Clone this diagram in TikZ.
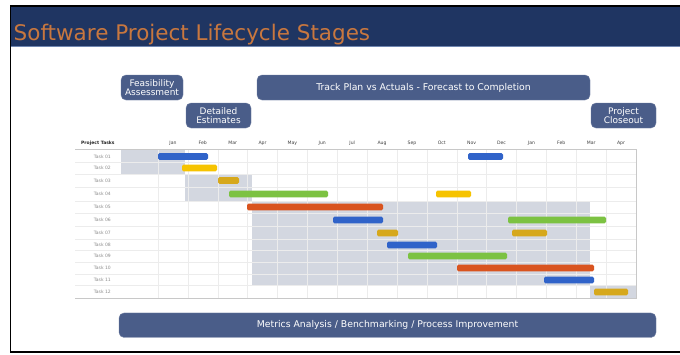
\documentclass[tikz,border=0pt]{standalone}
\usepackage{fontspec}
\setmainfont{DejaVu Sans}
\definecolor{headcol}{HTML}{1F3562}
\definecolor{headline}{HTML}{6F86B0}
\definecolor{titlecol}{HTML}{C8773F}
\definecolor{phasecol}{HTML}{4A5D89}
\definecolor{shadecol}{HTML}{D3D7E0}
\definecolor{gridcol}{HTML}{ECECEC}
\definecolor{bordcol}{HTML}{C8C8C8}
\definecolor{cblue}{HTML}{3063C9}
\definecolor{cyellow}{HTML}{F6C300}
\definecolor{cgold}{HTML}{D6A81C}
\definecolor{cgreen}{HTML}{7CC242}
\definecolor{corange}{HTML}{D9541F}
\begin{document}
\begin{tikzpicture}[x=1pt,y=-1pt,
  phase/.style={fill=phasecol, draw=phasecol!80!white, line width=0.4pt, rounded corners=5pt, text=white,
    font=\fontsize{9}{8.6}\selectfont, align=center, inner sep=0pt},
  phaseone/.style={phase, font=\fontsize{9.3}{10}\selectfont},
  bar/.style={rounded corners=1.5pt},
  tasklbl/.style={anchor=east, text=black!45, font=\fontsize{4.5}{5}\selectfont, inner sep=0pt},
  monlbl/.style={text=black!75, font=\fontsize{4.6}{5}\selectfont, inner sep=0pt},
  gridline/.style={draw=gridcol, line width=0.5pt}]
\useasboundingbox (0,0) rectangle (680,354);
\fill[white] (0,0) rectangle (680,354);
% header
\fill[headcol] (10,6) rectangle (680,46);
\draw[headline, line width=0.8pt] (10,46.4) -- (680,46.4);
\node[anchor=base west, text=titlecol, font=\fontsize{21.5}{25}\selectfont, inner sep=0pt] (title) at (13.5,40) {Software Project Lifecycle Stages};
% frame
\draw[black, line width=1.6pt] (680,6) -- (10.5,6) -- (10.5,351.8) -- (680,351.8);
% phase boxes
\node[phase, minimum width=62pt, minimum height=25pt] (feas) at (152,87.5) {Feasibility\\Assessment};
\node[phase, minimum width=65pt, minimum height=25pt] (detail) at (218.5,115.5) {Detailed\\Estimates};
\node[phaseone, minimum width=333pt, minimum height=25pt] (track) at (423.5,87.5) {Track Plan vs Actuals - Forecast to Completion};
\node[phase, minimum width=65pt, minimum height=25pt] (close) at (623.5,115.5) {Project\\Closeout};
\node[phaseone, minimum width=537pt, minimum height=24.5pt] (metrics) at (387.5,325.2) {Metrics Analysis / Benchmarking / Process Improvement};
% shading
\fill[shadecol] (121,149) rectangle (185,174);
\fill[shadecol] (185,174) rectangle (252,201);
\fill[shadecol] (252,201) rectangle (590,285.5);
\fill[shadecol] (590,285.5) rectangle (636,298);
% grid
\foreach \yy in {162.5,174,187.5,201,213.5,226.5,239,250.5,262,274,285.5}
  \draw[gridline] (75,\yy) -- (636,\yy);
\foreach \k in {0,...,15}
  \draw[gridline] ({158+29.875*\k},149) -- ({158+29.875*\k},298);
\draw[bordcol, line width=0.6pt] (75,149) -- (636,149) -- (636,298) -- (75,298);
% header labels
\node[anchor=west, text=black!85, font=\bfseries\fontsize{4.5}{5}\selectfont, inner sep=0pt] (pt) at (81,143) {Project Tasks};
\foreach \m [count=\i from 0] in {Jan,Feb,Mar,Apr,May,Jun,Jul,Aug,Sep,Oct,Nov,Dec,Jan,Feb,Mar,Apr}
  \node[monlbl] (m\i) at ({158+29.875*(\i+0.5)},143) {\m};
% task labels
\foreach \t/\yy in {01/156.5,02/168,03/180.5,04/194,05/207,06/220,07/233,08/245,09/256,10/268,11/280,12/292}
  \node[tasklbl] (t\t) at (111,\yy) {Task \t};
% bars
\newcommand\gbar[4]{\fill[bar,#1] (#2,{#4-3.4}) rectangle (#3,{#4+3.4});}
\gbar{cblue}{158}{208}{156.5}
\gbar{cblue}{468}{503}{156.5}
\gbar{cyellow}{182}{217}{168}
\gbar{cgold}{218}{239}{180.5}
\gbar{cgreen}{229}{328}{194}
\gbar{cyellow}{436}{471}{194}
\gbar{corange}{247}{383}{207}
\gbar{cblue}{333}{383}{220}
\gbar{cgreen}{508}{606}{220}
\gbar{cgold}{377}{398}{233}
\gbar{cgold}{512}{547}{233}
\gbar{cblue}{387}{437}{245}
\gbar{cgreen}{408}{507}{256}
\gbar{corange}{457}{594}{268}
\gbar{cblue}{544}{594}{280}
\gbar{cgold}{594}{628}{292}
\end{tikzpicture}
\end{document}
